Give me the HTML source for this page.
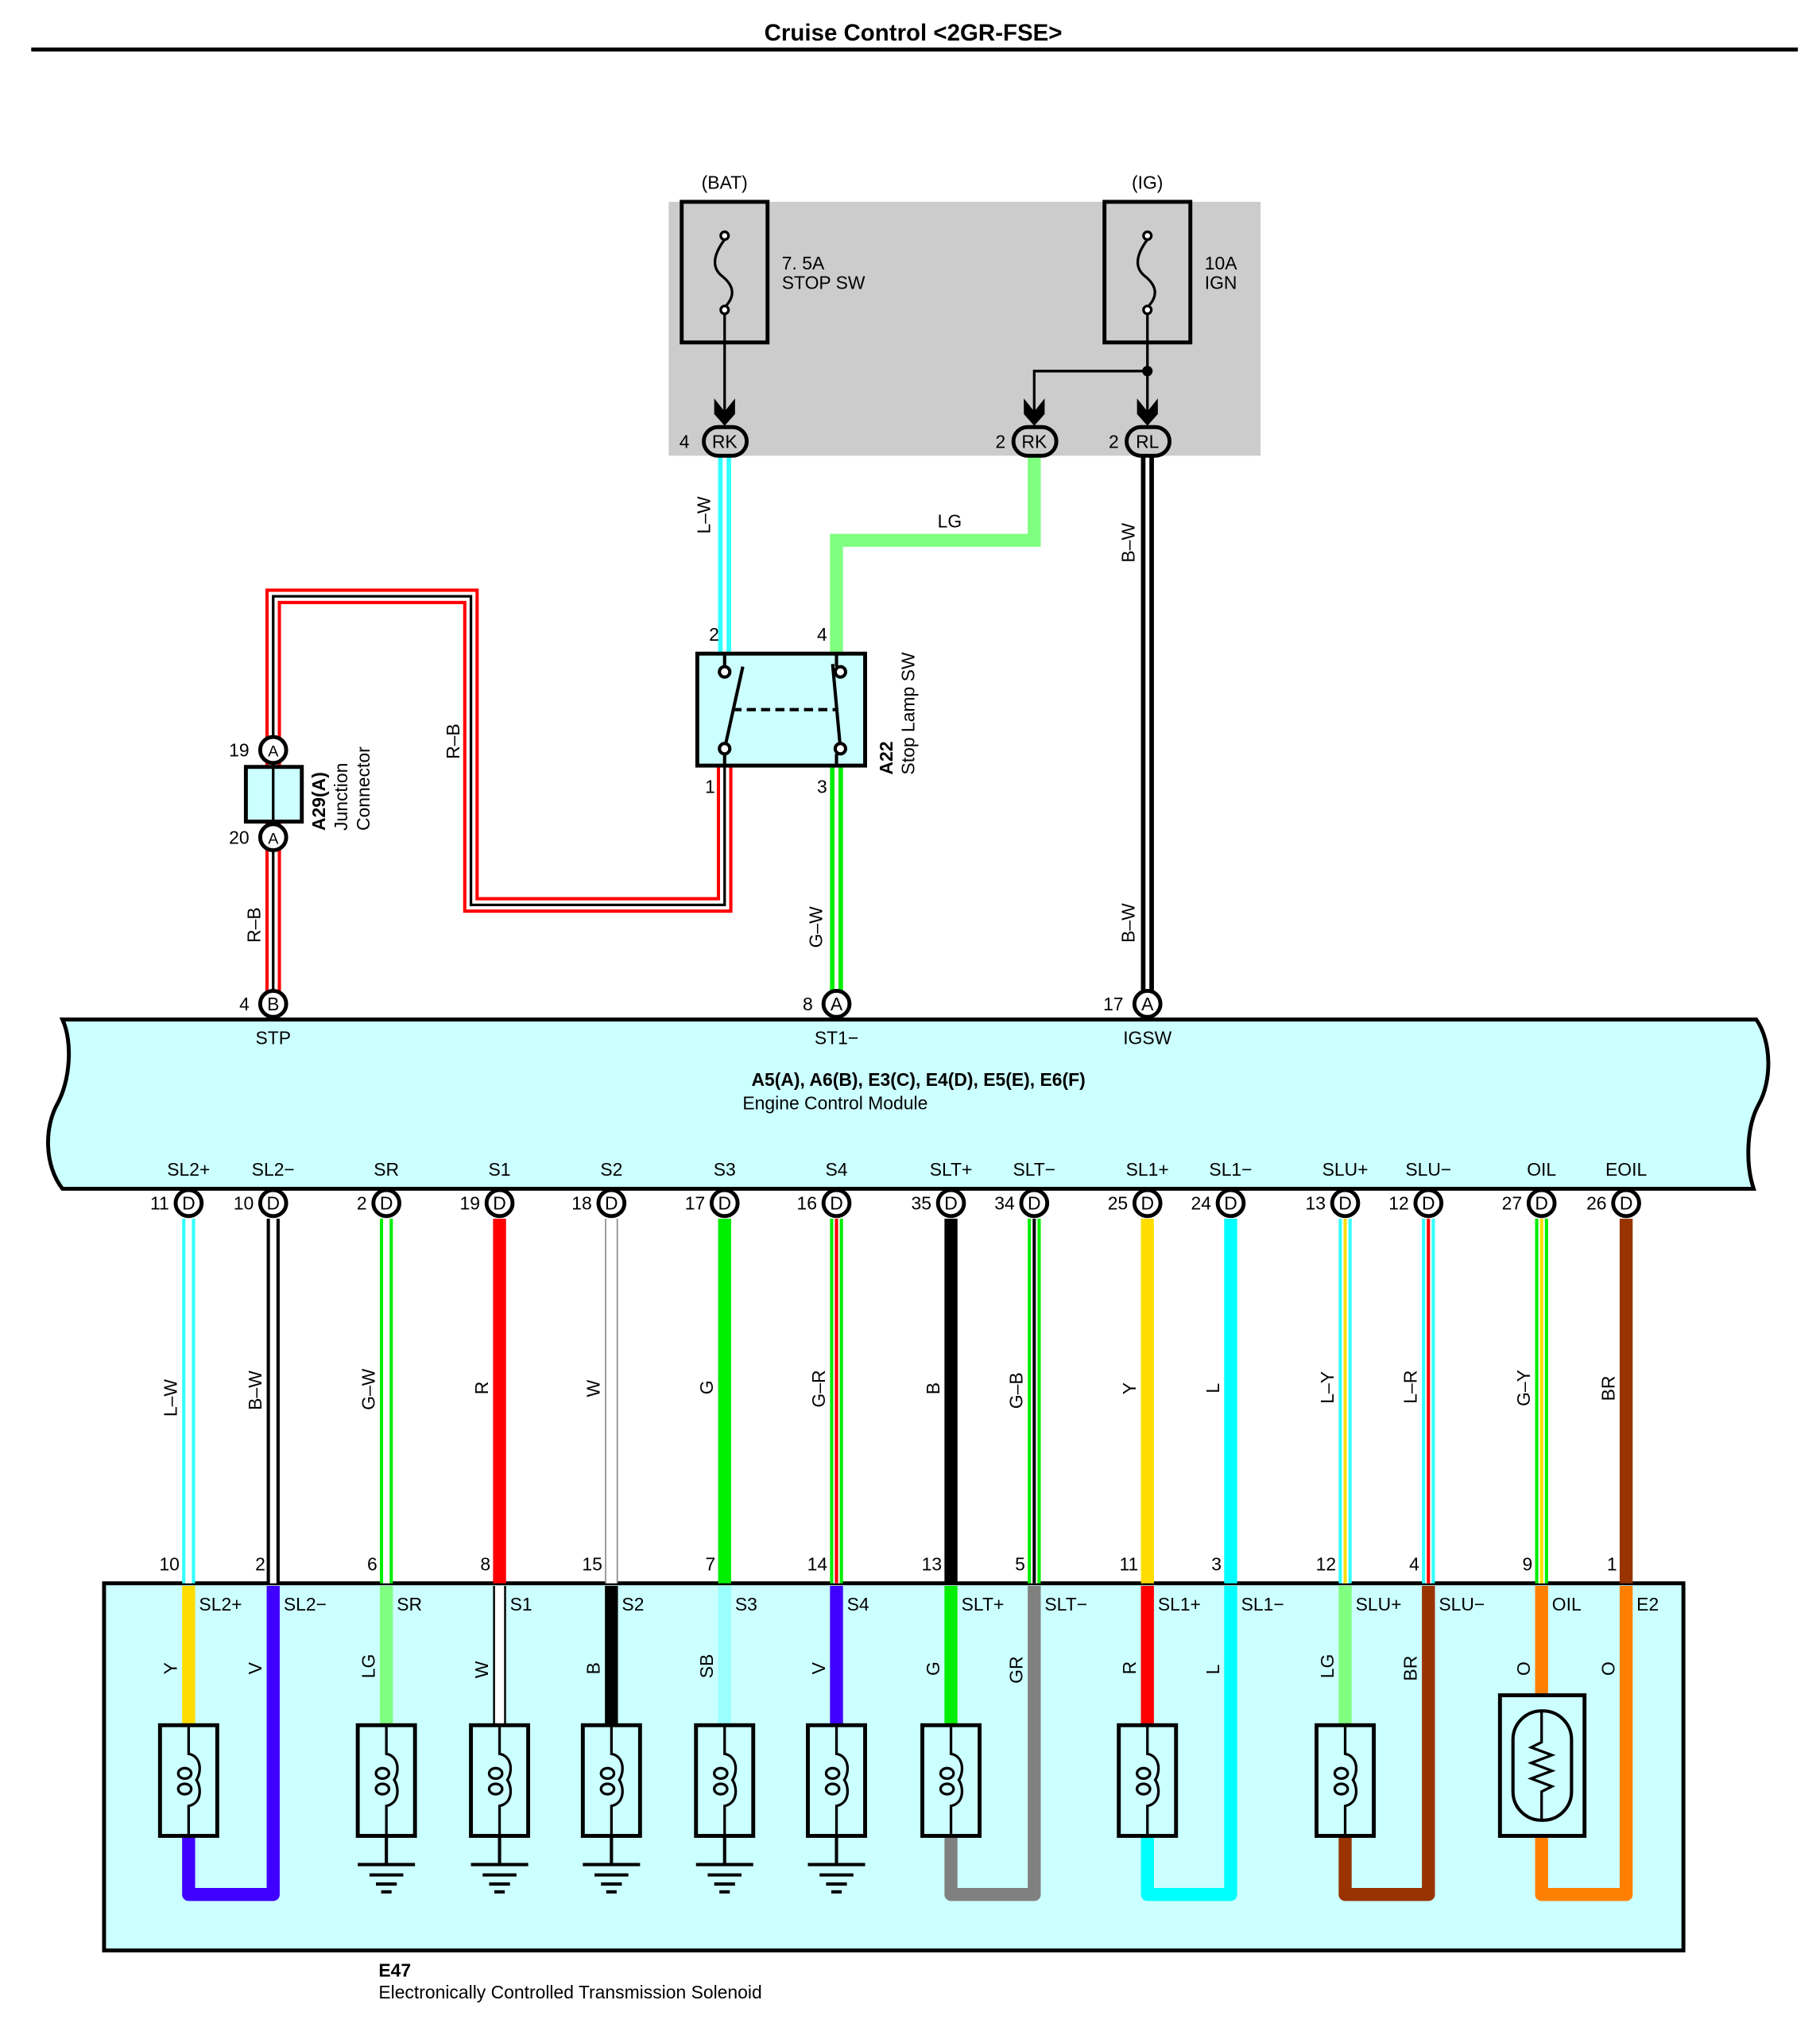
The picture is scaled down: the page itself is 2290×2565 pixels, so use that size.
<!DOCTYPE html>
<html><head><meta charset="utf-8"><style>
html,body{margin:0;padding:0;background:#fff}
svg{display:block}
text{font-family:"Liberation Sans",sans-serif;font-size:14px;fill:#000}
</style></head><body>
<svg width="2290" height="2565" viewBox="0 0 1399 1566" preserveAspectRatio="none" xmlns="http://www.w3.org/2000/svg">
<text x="702" y="31" text-anchor="middle" style="font-size:18px;font-weight:bold">Cruise Control &lt;2GR-FSE&gt;</text>
<line x1="24" y1="38" x2="1382" y2="38" stroke="#000" stroke-width="3"/>

<rect x="514" y="155" width="455" height="195" fill="#ccc"/>
<g fill="none" stroke="#000" stroke-width="3">
<rect x="524" y="155" width="66" height="108"/>
<rect x="849" y="155" width="66" height="108"/>
</g>
<g fill="none" stroke="#000" stroke-width="2">
<path d="M557,184 C545,200 550,208 555,212 C565,220 565,228 557,236"/>
<path d="M882,184 C870,200 875,208 880,212 C890,220 890,228 882,236"/>
<circle cx="557" cy="181" r="3" fill="#fff"/><circle cx="557" cy="238" r="3" fill="#fff"/>
<circle cx="882" cy="181" r="3" fill="#fff"/><circle cx="882" cy="238" r="3" fill="#fff"/>
<line x1="557" y1="241" x2="557" y2="318"/>
<line x1="882" y1="241" x2="882" y2="318"/>
<polyline points="882,285 795,285 795,318"/>
</g>
<circle cx="882" cy="285" r="4"/>
<g fill="#000">
<path d="M549,306 L557,316 L565,306 L565,318 L557,327 L549,318Z"/>
<path d="M787,306 L795,316 L803,306 L803,318 L795,327 L787,318Z"/>
<path d="M874,306 L882,316 L890,306 L890,318 L882,327 L874,318Z"/>
</g>
<text x="557" y="145" text-anchor="middle">(BAT)</text>
<text x="882" y="145" text-anchor="middle">(IG)</text>
<text x="601" y="207">7. 5A</text><text x="601" y="222">STOP SW</text>
<text x="926" y="207">10A</text><text x="926" y="222">IGN</text>

<g fill="none" stroke-linejoin="miter">
<line x1="557" y1="350" x2="557" y2="502" stroke="#33ffff" stroke-width="10"/>
<line x1="557" y1="350" x2="557" y2="502" stroke="#fff" stroke-width="3"/>
<polyline points="795,350 795,415 643,415 643,502" stroke="#80ff80" stroke-width="10"/>
<line x1="882" y1="350" x2="882" y2="771" stroke="#000" stroke-width="10"/>
<line x1="882" y1="350" x2="882" y2="771" stroke="#fff" stroke-width="3"/>
<polyline points="557,588 557,695 362,695 362,458 210,458 210,771" stroke="#ff0000" stroke-width="12"/>
<polyline points="557,588 557,695 362,695 362,458 210,458 210,771" stroke="#fff" stroke-width="7"/>
<polyline points="557,588 557,695 362,695 362,458 210,458 210,771" stroke="#000" stroke-width="2"/>
<line x1="643" y1="588" x2="643" y2="771" stroke="#00ee00" stroke-width="10"/>
<line x1="643" y1="588" x2="643" y2="771" stroke="#fff" stroke-width="3"/>
</g>
<g stroke="#000" stroke-width="3" fill="#ccc">
<rect x="541" y="328" width="33" height="22" rx="11"/>
<rect x="779" y="328" width="33" height="22" rx="11"/>
<rect x="866" y="328" width="33" height="22" rx="11"/>
</g>
<g text-anchor="middle"><text x="557" y="344">RK</text><text x="795" y="344">RK</text><text x="882" y="344">RL</text></g>
<text x="530" y="344" text-anchor="end">4</text><text x="773" y="344" text-anchor="end">2</text><text x="860" y="344" text-anchor="end">2</text>
<text transform="translate(546,410) rotate(-90)">L–W</text>
<text x="730" y="405" text-anchor="middle">LG</text>
<text transform="translate(872,432) rotate(-90)">B–W</text>
<text transform="translate(872,724) rotate(-90)">B–W</text>
<text transform="translate(632,728) rotate(-90)">G–W</text>
<text transform="translate(353,583) rotate(-90)">R–B</text>
<text transform="translate(200,724) rotate(-90)">R–B</text>

<rect x="536" y="502" width="129" height="86" fill="#ccffff" stroke="#000" stroke-width="3"/>
<g stroke="#000" stroke-width="2.5" fill="#fff">
<line x1="557" y1="502" x2="557" y2="512"/><line x1="557" y1="579" x2="557" y2="588"/>
<line x1="643" y1="502" x2="643" y2="512"/><line x1="643" y1="579" x2="643" y2="588"/>
<line x1="571" y1="512" x2="557" y2="575"/><line x1="640" y1="510" x2="646" y2="575"/>
<line x1="563" y1="545" x2="642" y2="545" stroke-dasharray="7,4"/>
<circle cx="557" cy="516" r="4"/><circle cx="557" cy="575" r="4"/>
<circle cx="646" cy="516" r="4"/><circle cx="646" cy="575" r="4"/>
</g>
<text x="545" y="492">2</text><text x="628" y="492">4</text><text x="542" y="609">1</text><text x="628" y="609">3</text>
<text transform="translate(686,595) rotate(-90)" style="font-weight:bold">A22</text>
<text transform="translate(703,595) rotate(-90)">Stop Lamp SW</text>

<rect x="189" y="589" width="43" height="42" fill="#ccffff" stroke="#000" stroke-width="3"/>
<line x1="210" y1="589" x2="210" y2="631" stroke="#000" stroke-width="2"/>
<g stroke="#000" stroke-width="3" fill="#fff"><circle cx="210" cy="576" r="10"/><circle cx="210" cy="643" r="10"/></g>
<text x="210" y="581" text-anchor="middle" style="font-size:12px">A</text>
<text x="210" y="648" text-anchor="middle" style="font-size:12px">A</text>
<text x="176" y="581">19</text><text x="176" y="648">20</text>
<text transform="translate(250,638) rotate(-90)" style="font-weight:bold">A29(A)</text>
<text transform="translate(267,638) rotate(-90)">Junction</text>
<text transform="translate(284,638) rotate(-90)">Connector</text>

<path d="M48,783 H1350 C1362,800 1362,830 1352,848 C1342,866 1342,895 1348,913 H48 C34,895 34,866 44,848 C54,830 56,800 48,783 Z" fill="#ccffff" stroke="#000" stroke-width="3"/>
<g stroke="#000" stroke-width="3" fill="#fff"><circle cx="210" cy="771" r="10"/><circle cx="643" cy="771" r="10"/><circle cx="882" cy="771" r="10"/></g>
<g text-anchor="middle" style="font-size:12px"><text x="210" y="776">B</text><text x="643" y="776">A</text><text x="882" y="776">A</text></g>
<text x="184" y="776">4</text><text x="617" y="776">8</text><text x="848" y="776">17</text>
<g text-anchor="middle"><text x="210" y="802">STP</text><text x="643" y="802">ST1−</text><text x="882" y="802">IGSW</text></g>
<text x="706" y="834" text-anchor="middle" style="font-weight:bold">A5(A), A6(B), E3(C), E4(D), E5(E), E6(F)</text>
<text x="642" y="852" text-anchor="middle">Engine Control Module</text>
<g text-anchor="middle">
<text x="145" y="903">SL2+</text><text x="210" y="903">SL2−</text><text x="297" y="903">SR</text><text x="384" y="903">S1</text><text x="470" y="903">S2</text><text x="557" y="903">S3</text><text x="643" y="903">S4</text><text x="731" y="903">SLT+</text><text x="795" y="903">SLT−</text><text x="882" y="903">SL1+</text><text x="946" y="903">SL1−</text><text x="1034" y="903">SLU+</text><text x="1098" y="903">SLU−</text><text x="1185" y="903">OIL</text><text x="1250" y="903">EOIL</text>
</g>

<rect x="80" y="1216" width="1214" height="282" fill="#ccffff" stroke="#000" stroke-width="3"/>

<g fill="none">
<g stroke-width="10">
<line x1="145" y1="936" x2="145" y2="1216" stroke="#33ffff"/>
<line x1="210" y1="936" x2="210" y2="1216" stroke="#000"/>
<line x1="297" y1="936" x2="297" y2="1216" stroke="#00ee00"/>
<line x1="384" y1="936" x2="384" y2="1216" stroke="#ff0000"/>
<line x1="470" y1="936" x2="470" y2="1216" stroke="#888"/>
<line x1="557" y1="936" x2="557" y2="1216" stroke="#00ee00"/>
<line x1="643" y1="936" x2="643" y2="1216" stroke="#00ee00"/>
<line x1="731" y1="936" x2="731" y2="1216" stroke="#000"/>
<line x1="795" y1="936" x2="795" y2="1216" stroke="#00ee00"/>
<line x1="882" y1="936" x2="882" y2="1216" stroke="#ffdd00"/>
<line x1="946" y1="936" x2="946" y2="1216" stroke="#00ffff"/>
<line x1="1034" y1="936" x2="1034" y2="1216" stroke="#33ffff"/>
<line x1="1098" y1="936" x2="1098" y2="1216" stroke="#33ffff"/>
<line x1="1185" y1="936" x2="1185" y2="1216" stroke="#00ee00"/>
<line x1="1250" y1="936" x2="1250" y2="1216" stroke="#993300"/>
</g>
<g stroke="#fff" stroke-width="5">
<line x1="145" y1="936" x2="145" y2="1216"/><line x1="210" y1="936" x2="210" y2="1216"/>
<line x1="297" y1="936" x2="297" y2="1216"/><line x1="643" y1="936" x2="643" y2="1216"/>
<line x1="795" y1="936" x2="795" y2="1216"/><line x1="1034" y1="936" x2="1034" y2="1216"/>
<line x1="1098" y1="936" x2="1098" y2="1216"/><line x1="1185" y1="936" x2="1185" y2="1216"/>
</g>
<line x1="470" y1="936" x2="470" y2="1216" stroke="#fff" stroke-width="8"/>
<g stroke-width="2.5">
<line x1="643" y1="936" x2="643" y2="1216" stroke="#ff0000"/>
<line x1="795" y1="936" x2="795" y2="1216" stroke="#000"/>
<line x1="1034" y1="936" x2="1034" y2="1216" stroke="#ffdd00"/>
<line x1="1098" y1="936" x2="1098" y2="1216" stroke="#ff0000"/>
<line x1="1185" y1="936" x2="1185" y2="1216" stroke="#ffdd00"/>
</g>
</g>
<g stroke="#000" stroke-width="3" fill="#fff">
<circle cx="145" cy="924" r="10"/><circle cx="210" cy="924" r="10"/><circle cx="297" cy="924" r="10"/><circle cx="384" cy="924" r="10"/><circle cx="470" cy="924" r="10"/><circle cx="557" cy="924" r="10"/><circle cx="643" cy="924" r="10"/><circle cx="731" cy="924" r="10"/><circle cx="795" cy="924" r="10"/><circle cx="882" cy="924" r="10"/><circle cx="946" cy="924" r="10"/><circle cx="1034" cy="924" r="10"/><circle cx="1098" cy="924" r="10"/><circle cx="1185" cy="924" r="10"/><circle cx="1250" cy="924" r="10"/>
</g>
<g text-anchor="middle" style="font-size:12px">
<text x="145" y="929">D</text><text x="210" y="929">D</text><text x="297" y="929">D</text><text x="384" y="929">D</text><text x="470" y="929">D</text><text x="557" y="929">D</text><text x="643" y="929">D</text><text x="731" y="929">D</text><text x="795" y="929">D</text><text x="882" y="929">D</text><text x="946" y="929">D</text><text x="1034" y="929">D</text><text x="1098" y="929">D</text><text x="1185" y="929">D</text><text x="1250" y="929">D</text>
</g>
<g text-anchor="end">
<text x="130" y="929">11</text><text x="195" y="929">10</text><text x="282" y="929">2</text><text x="369" y="929">19</text><text x="455" y="929">18</text><text x="542" y="929">17</text><text x="628" y="929">16</text><text x="716" y="929">35</text><text x="780" y="929">34</text><text x="867" y="929">25</text><text x="931" y="929">24</text><text x="1019" y="929">13</text><text x="1083" y="929">12</text><text x="1170" y="929">27</text><text x="1235" y="929">26</text>
</g>
<text transform="translate(136,1088) rotate(-90)">L–W</text>
<text transform="translate(201,1083) rotate(-90)">B–W</text>
<text transform="translate(288,1083) rotate(-90)">G–W</text>
<text transform="translate(375,1071) rotate(-90)">R</text>
<text transform="translate(461,1073) rotate(-90)">W</text>
<text transform="translate(548,1071) rotate(-90)">G</text>
<text transform="translate(634,1081) rotate(-90)">G–R</text>
<text transform="translate(722,1071) rotate(-90)">B</text>
<text transform="translate(786,1082) rotate(-90)">G–B</text>
<text transform="translate(873,1071) rotate(-90)">Y</text>
<text transform="translate(937,1070) rotate(-90)">L</text>
<text transform="translate(1025,1078) rotate(-90)">L–Y</text>
<text transform="translate(1089,1078) rotate(-90)">L–R</text>
<text transform="translate(1176,1080) rotate(-90)">G–Y</text>
<text transform="translate(1241,1076) rotate(-90)">BR</text>
<g text-anchor="end">
<text x="138" y="1206">10</text><text x="204" y="1206">2</text><text x="290" y="1206">6</text><text x="377" y="1206">8</text><text x="463" y="1206">15</text><text x="550" y="1206">7</text><text x="636" y="1206">14</text><text x="724" y="1206">13</text><text x="788" y="1206">5</text><text x="875" y="1206">11</text><text x="939" y="1206">3</text><text x="1027" y="1206">12</text><text x="1091" y="1206">4</text><text x="1178" y="1206">9</text><text x="1243" y="1206">1</text>
</g>

<g fill="none" stroke-width="10" stroke-linejoin="round">
<line x1="145" y1="1218" x2="145" y2="1325" stroke="#ffdd00"/>
<polyline points="145,1410 145,1455 210,1455 210,1218" stroke="#4000ff"/>
<line x1="297" y1="1218" x2="297" y2="1325" stroke="#80ff80"/>
<line x1="384" y1="1218" x2="384" y2="1325" stroke="#000" stroke-width="10"/>
<line x1="384" y1="1218" x2="384" y2="1325" stroke="#fff" stroke-width="7"/>
<line x1="470" y1="1218" x2="470" y2="1325" stroke="#000"/>
<line x1="557" y1="1218" x2="557" y2="1325" stroke="#99ffff"/>
<line x1="643" y1="1218" x2="643" y2="1325" stroke="#4000ff"/>
<line x1="731" y1="1218" x2="731" y2="1325" stroke="#00ee00"/>
<polyline points="731,1410 731,1455 795,1455 795,1218" stroke="#808080"/>
<line x1="882" y1="1218" x2="882" y2="1325" stroke="#ff0000"/>
<polyline points="882,1410 882,1455 946,1455 946,1218" stroke="#00ffff"/>
<line x1="1034" y1="1218" x2="1034" y2="1325" stroke="#80ff80"/>
<polyline points="1034,1410 1034,1455 1098,1455 1098,1218" stroke="#993300"/>
<polyline points="1185,1218 1185,1302" stroke="#ff8000"/>
<polyline points="1185,1410 1185,1455 1250,1455 1250,1218" stroke="#ff8000"/>
</g>
<g>
<text x="153" y="1237">SL2+</text><text x="218" y="1237">SL2−</text><text x="305" y="1237">SR</text><text x="392" y="1237">S1</text><text x="478" y="1237">S2</text><text x="565" y="1237">S3</text><text x="651" y="1237">S4</text><text x="739" y="1237">SLT+</text><text x="803" y="1237">SLT−</text><text x="890" y="1237">SL1+</text><text x="954" y="1237">SL1−</text><text x="1042" y="1237">SLU+</text><text x="1106" y="1237">SLU−</text><text x="1193" y="1237">OIL</text><text x="1258" y="1237">E2</text>
</g>
<text transform="translate(136,1286) rotate(-90)">Y</text>
<text transform="translate(201,1286) rotate(-90)">V</text>
<text transform="translate(288,1289) rotate(-90)">LG</text>
<text transform="translate(375,1289) rotate(-90)">W</text>
<text transform="translate(461,1286) rotate(-90)">B</text>
<text transform="translate(548,1289) rotate(-90)">SB</text>
<text transform="translate(634,1286) rotate(-90)">V</text>
<text transform="translate(722,1287) rotate(-90)">G</text>
<text transform="translate(786,1293) rotate(-90)">GR</text>
<text transform="translate(873,1286) rotate(-90)">R</text>
<text transform="translate(937,1286) rotate(-90)">L</text>
<text transform="translate(1025,1289) rotate(-90)">LG</text>
<text transform="translate(1089,1291) rotate(-90)">BR</text>
<text transform="translate(1176,1287) rotate(-90)">O</text>
<text transform="translate(1241,1287) rotate(-90)">O</text>

<defs>
<g id="coil">
<rect x="-22" y="0" width="44" height="85" fill="#ccffff" stroke="#000" stroke-width="3"/>
<g fill="none" stroke="#000" stroke-width="2">
<path d="M0,0 V22 C10,24 10,36 6,42 C10,48 10,60 0,62 V85"/>
<ellipse cx="-3" cy="37" rx="5" ry="4"/><ellipse cx="-3" cy="49" rx="5" ry="4"/>
</g>
</g>
<g id="gnd" stroke="#000" stroke-width="2.5">
<line x1="0" y1="0" x2="0" y2="22"/>
<line x1="-22" y1="22" x2="22" y2="22"/><line x1="-13" y1="30" x2="13" y2="30"/>
<line x1="-8" y1="37" x2="8" y2="37"/><line x1="-4" y1="43" x2="4" y2="43"/>
</g>
</defs>
<use href="#coil" x="145" y="1325"/><use href="#coil" x="297" y="1325"/><use href="#coil" x="384" y="1325"/><use href="#coil" x="470" y="1325"/><use href="#coil" x="557" y="1325"/><use href="#coil" x="643" y="1325"/><use href="#coil" x="731" y="1325"/><use href="#coil" x="882" y="1325"/><use href="#coil" x="1034" y="1325"/>
<use href="#gnd" x="297" y="1410"/><use href="#gnd" x="384" y="1410"/><use href="#gnd" x="470" y="1410"/><use href="#gnd" x="557" y="1410"/><use href="#gnd" x="643" y="1410"/>
<rect x="1153" y="1302" width="65" height="108" fill="#ccffff" stroke="#000" stroke-width="3"/>
<rect x="1163" y="1314" width="45" height="84" rx="22" fill="none" stroke="#000" stroke-width="2.5"/>
<path d="M1185,1314 V1338 L1177,1342 L1193,1348 L1177,1354 L1193,1360 L1177,1366 L1193,1372 L1185,1376 V1398" fill="none" stroke="#000" stroke-width="2"/>

<text x="291" y="1518" style="font-weight:bold">E47</text>
<text x="291" y="1535">Electronically Controlled Transmission Solenoid</text>
</svg>
</body></html>
